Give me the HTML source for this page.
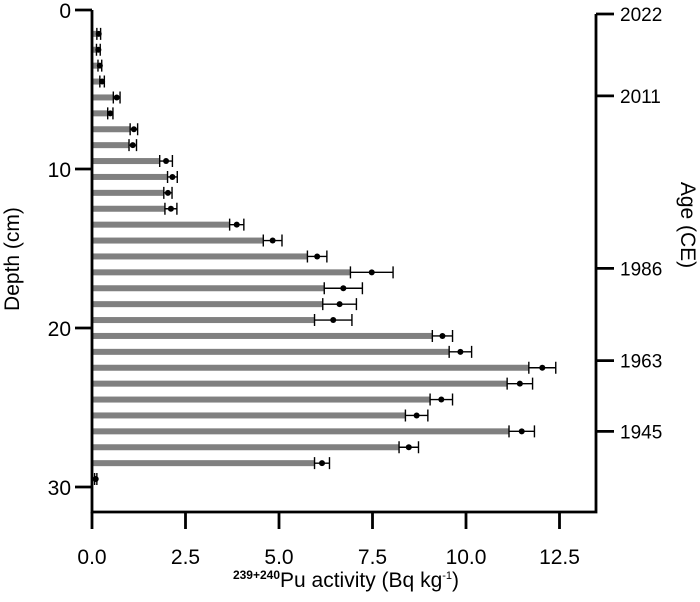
<!DOCTYPE html>
<html><head><meta charset="utf-8"><style>
html,body{margin:0;padding:0;background:#fff;}
svg{display:block;font-family:"Liberation Sans",Arial,sans-serif;}
</style></head><body>
<svg id="chart" width="700" height="602" viewBox="0 0 700 602" xmlns="http://www.w3.org/2000/svg">
<g id="bars"></g>
<g id="axes"></g>
</svg>
<script>
const depths = [1.5,2.5,3.5,4.5,5.5,6.5,7.5,8.5,9.5,10.5,11.5,12.5,13.5,14.5,15.5,16.5,17.5,18.5,19.5,20.5,21.5,22.5,23.5,24.5,25.5,26.5,27.5,28.5,29.5];
const activity = [0.18,0.17,0.21,0.27,0.66,0.49,1.12,1.09,1.98,2.15,2.03,2.11,3.87,4.83,6.02,7.48,6.72,6.62,6.45,9.37,9.85,12.04,11.44,9.34,8.68,11.49,8.47,6.15,0.1];
const errors = [0.05,0.05,0.05,0.06,0.09,0.07,0.1,0.1,0.17,0.13,0.11,0.16,0.19,0.25,0.26,0.57,0.51,0.45,0.5,0.27,0.3,0.36,0.34,0.3,0.3,0.34,0.26,0.2,0.03];
const showBar = [1,1,1,1,1,1,1,1,1,1,1,1,1,1,1,1,1,1,1,1,1,1,1,1,1,1,1,1,0];
const xTicks = [0,2.5,5,7.5,10,12.5];
const xTickLabels = ["0.0","2.5","5.0","7.5","10.0","12.5"];
const yTicks = [0,10,20,30];
const ageTickDepths = [0.25,5.4,16.25,22.05,26.5];
const ageTickLabels = ["2022","2011","1986","1963","1945"];

const NS="http://www.w3.org/2000/svg";
const X0=92, XS=37.4, Y0=10, YS=15.9;
const xs=v=>X0+v*XS, ys=d=>Y0+d*YS;
const LEFT=92, RIGHT=596, BOTTOM=512;
function mk(parent,tag,attrs){const e=document.createElementNS(NS,tag);for(const k in attrs)e.setAttribute(k,attrs[k]);parent.appendChild(e);return e;}
const bars=document.getElementById('bars'), axes=document.getElementById('axes');

depths.forEach((d,i)=>{
  const y=ys(d), v=activity[i], e=errors[i];
  if(showBar[i]){
    const r=mk(bars,'rect',{x:LEFT,y:y-3,width:Math.max(0,xs(v-e)-LEFT),height:6,fill:'#808080'});
    
    
  }
  const w=mk(bars,'path',{d:`M${xs(v-e)},${y}H${xs(v+e)}M${xs(v-e)},${y-6}V${y+6}M${xs(v+e)},${y-6}V${y+6}`,stroke:'#000','stroke-width':1.4,fill:'none'});
  
  
  const c=mk(bars,'circle',{cx:xs(v),cy:y,r:3,fill:'#000'});
  
  
});

let a=mk(axes,'path',{d:`M${LEFT},${Y0}V${BOTTOM}H${RIGHT}V${ys(ageTickDepths[0])}`,stroke:'#000','stroke-width':2.8,fill:'none'});



xTicks.forEach((t,i)=>{
  const tk=mk(axes,'line',{x1:xs(t),x2:xs(t),y1:BOTTOM,y2:BOTTOM+17,stroke:'#000','stroke-width':2.8});
  
  
  const tx=mk(axes,'text',{x:xs(t),y:564,'font-size':21,'text-anchor':'middle'});
  tx.textContent=xTickLabels[i];
  
  
});
yTicks.forEach(t=>{
  const tk=mk(axes,'line',{x1:LEFT-17,x2:LEFT,y1:ys(t),y2:ys(t),stroke:'#000','stroke-width':2.8});
  
  
  const tx=mk(axes,'text',{x:LEFT-21,y:ys(t)+8,'font-size':21,'text-anchor':'end'});
  tx.textContent=String(t);
  
  
});
ageTickDepths.forEach((d,i)=>{
  const tk=mk(axes,'line',{x1:RIGHT,x2:RIGHT+18,y1:ys(d),y2:ys(d),stroke:'#000','stroke-width':2.8});
  
  
  const tx=mk(axes,'text',{x:RIGHT+24,y:ys(d)+7,'font-size':19});
  tx.textContent=ageTickLabels[i];
  
  
});
</script>
<div style="position:absolute;left:0;top:0;width:700px;height:602px;pointer-events:none;font-family:'Liberation Sans',Arial,sans-serif;">
  <div style="position:absolute;left:0;width:700px;top:568px;text-align:center;font-size:21px;"><span style="position:relative;left:-4px;"><sup style="font-size:12px;font-weight:bold;">239+240</sup>Pu activity (Bq kg<sup style="font-size:11px;">-1</sup>)</span></div>
  <div style="position:absolute;left:-52px;top:247px;width:130px;text-align:center;font-size:21px;transform:rotate(-90deg);">Depth (cm)</div>
  <div style="position:absolute;left:622px;top:213px;width:130px;text-align:center;font-size:21px;transform:rotate(90deg);">Age (CE)</div>
</div>
</body></html>
